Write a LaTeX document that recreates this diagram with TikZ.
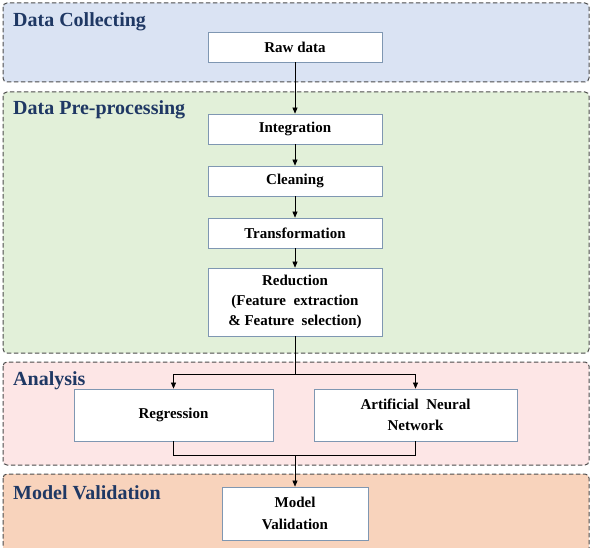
\documentclass[tikz,border=0pt]{standalone}
\usepackage{fontspec}
\setmainfont{Liberation Serif}
\usetikzlibrary{arrows.meta}

\definecolor{titleblue}{HTML}{1F3864}
\definecolor{boxline}{HTML}{7F97B2}
\definecolor{collectfill}{HTML}{DAE3F3}
\definecolor{prepfill}{HTML}{E2F0D9}
\definecolor{analysisfill}{HTML}{FDE6E6}
\definecolor{validfill}{HTML}{F8D3BC}

\tikzset{
    panel/.style = {draw=black!70, dash pattern=on 4.5pt off 2.5pt, line width=1pt, rounded corners=4pt},
    paneltitle/.style = {anchor=west, font=\fontsize{20}{22}\selectfont\bfseries, text=titleblue, inner sep=0pt},
    stepbox/.style = {draw=boxline, fill=white, line width=0.8pt, minimum width=174pt, minimum height=30pt,
                      align=center, font=\fontsize{15}{20}\selectfont\bfseries, inner sep=2pt},
    flow/.style = {-{Triangle[length=6pt,width=5pt]}, line width=0.6pt},
}

\begin{document}
\begin{tikzpicture}[x=1pt, y=-1pt]
            \useasboundingbox (0, 0) rectangle (591, 548);

            % Bereiche
            \draw[panel, fill=collectfill]  (3, 3)   rectangle (589, 82);
            \draw[panel, fill=prepfill]     (3, 92)  rectangle (589, 353);
            \draw[panel, fill=analysisfill] (3, 362) rectangle (589, 465);
            \draw[panel, fill=validfill]    (3, 474) rectangle (589, 556);

            % Titel
            \node[paneltitle] (tcollect)  at (13, 22)  {Data Collecting};
            \node[paneltitle] (tprep)     at (13, 110) {Data Pre-processing};
            \node[paneltitle] (tanalysis) at (13, 381) {Analysis};
            \node[paneltitle] (tvalid)    at (13, 493) {Model Validation};

            % Schritte
            \node[stepbox] (raw)   at (295, 47)  {Raw data};
            \node[stepbox] (integ) at (295, 129) {Integration};
            \node[stepbox] (clean) at (295, 181) {Cleaning};
            \node[stepbox] (trans) at (295, 233) {Transformation};
            \node[stepbox, minimum height=68pt] (reduc) at (295, 302)
                {Reduction\\(Feature~ extraction\\\&~Feature~ selection)};

            % Analyse
            \node[stepbox, minimum width=199pt, minimum height=52pt] (regr) at (173.5, 415) {Regression};
            \node[stepbox, minimum width=203pt, minimum height=52pt, font=\fontsize{15}{21}\selectfont\bfseries] (ann)  at (415.5, 415) {Artificial~ Neural\\Network};

            % Validierung
            \node[stepbox, minimum width=146pt, minimum height=53pt, font=\fontsize{15}{22}\selectfont\bfseries] (model) at (295, 513.5) {Model\\Validation};

            % Pfeile
            \draw[flow] (raw)   -- (integ);
            \draw[flow] (integ) -- (clean);
            \draw[flow] (clean) -- (trans);
            \draw[flow] (trans) -- (reduc);

            % Verzweigung
            \coordinate (split) at (295, 374);
            \draw[line width=0.6pt] (reduc.south) -- (split);
            \draw[flow] (split) -| (regr.north);
            \draw[flow] (split) -| (ann.north);

            % Zusammenführung
            \coordinate (join) at (295, 455);
            \draw[line width=0.6pt] (regr.south) |- (join);
            \draw[line width=0.6pt] (ann.south)  |- (join);
            \draw[flow] (join) -- (model.north);
        \end{tikzpicture}
\end{document}
